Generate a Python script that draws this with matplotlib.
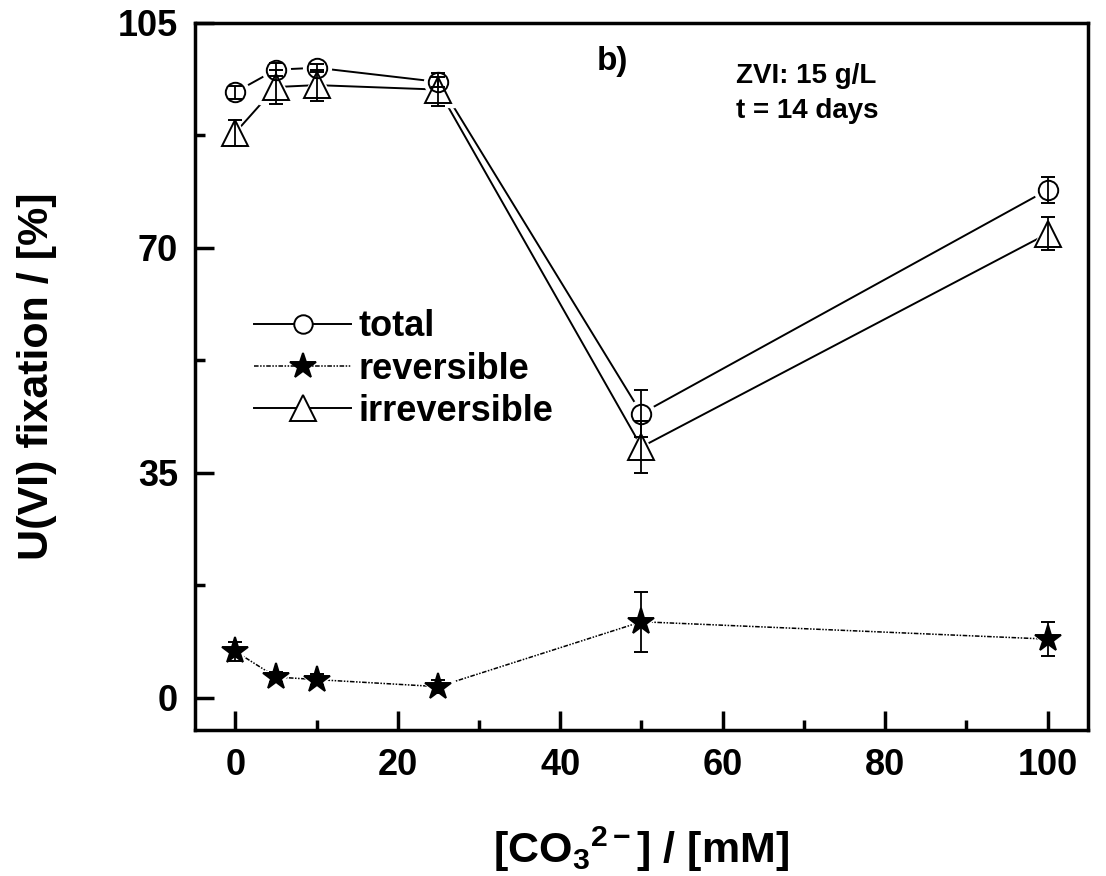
import matplotlib
matplotlib.use('Agg')
import matplotlib.pyplot as plt
from matplotlib.ticker import MultipleLocator
from matplotlib.lines import Line2D

plt.rcParams['font.family'] = ['Liberation Sans', 'DejaVu Sans']
plt.rcParams['font.weight'] = 'bold'
plt.rcParams['mathtext.fontset'] = 'custom'
plt.rcParams['mathtext.rm'] = 'Liberation Sans:bold'
plt.rcParams['mathtext.it'] = 'Liberation Sans:bold'
plt.rcParams['mathtext.bf'] = 'Liberation Sans:bold'

co3 = [0, 5, 10, 25, 50, 100]
total = [94.2, 97.7, 98.0, 95.8, 44.2, 79.0]
total_err = [1.0, 1.0, 0.6, 0.8, 3.7, 2.0]
reversible = [7.2, 3.2, 2.8, 1.7, 11.8, 9.1]
reversible_err = [1.5, 0.8, 0.8, 1.0, 4.7, 2.7]
irreversible = [87.9, 95.0, 95.3, 94.6, 39.0, 72.2]
irreversible_err = [2.0, 2.6, 2.4, 2.6, 4.0, 2.6]

fig = plt.figure(figsize=(11.06, 8.76), dpi=100)
ax = fig.add_axes([0.176, 0.167, 0.808, 0.807])

series = [
    ('total', total, total_err, 'o', 14, '-', 1.4, 'none'),
    ('reversible', reversible, reversible_err, '*', 20, (0, (3, 1, 1, 1, 1, 1)), 1.1, 'black'),
    ('irreversible', irreversible, irreversible_err, '^', 19, '-', 1.4, 'none'),
]

handles = []
for name, y, err, mk, ms, ls, lw, fc in series:
    # connecting line, white halo to leave a gap, then markers with error bars
    ax.plot(co3, y, color='black', ls=ls, lw=lw, zorder=1)
    ax.plot(co3, y, ls='none', marker=mk, ms=ms + 6, mfc='white', mec='white', zorder=2)
    ax.errorbar(co3, y, yerr=err, ls='none', marker=mk, ms=ms, mfc=fc, mec='black',
                mew=1.4, ecolor='black', capsize=5, elinewidth=1.3, capthick=1.3, zorder=3)
    handles.append(Line2D([], [], color='black', ls=ls, lw=lw, marker=mk, ms=ms * 0.95,
                          mfc='white' if fc == 'none' else fc, mec='black', mew=1.4))

ax.set_xlim(-5, 105)
ax.set_ylim(-5, 105)
ax.xaxis.set_major_locator(MultipleLocator(20))
ax.xaxis.set_minor_locator(MultipleLocator(10))
ax.yaxis.set_major_locator(MultipleLocator(35))
ax.yaxis.set_minor_locator(MultipleLocator(17.5))
ax.tick_params(which='both', direction='in', width=2.5, labelsize=26)
ax.tick_params(axis='x', pad=13)
ax.tick_params(axis='y', pad=12)
ax.tick_params(which='major', length=14)
ax.tick_params(which='minor', length=7)
for s in ax.spines.values():
    s.set_linewidth(2.5)

ax.set_xlabel(r'[CO$_3$$^{2-}$] / [mM]', fontsize=31, fontweight='bold', labelpad=30)
ax.set_ylabel('U(VI) fixation / [%]', fontsize=31, fontweight='bold', labelpad=44)

ax.text(0.45, 0.945, 'b)', transform=ax.transAxes, fontsize=24, fontweight='bold', va='center')
ax.text(0.606, 0.925, 'ZVI: 15 g/L', transform=ax.transAxes, fontsize=20, fontweight='bold', va='center')
ax.text(0.606, 0.875, 't = 14 days', transform=ax.transAxes, fontsize=20, fontweight='bold', va='center')

ax.legend(handles, [s[0] for s in series], loc='upper left', bbox_to_anchor=(0.05, 0.615),
          frameon=False, fontsize=26, handlelength=2.7, handletextpad=0.2,
          labelspacing=0.2, borderaxespad=0)

fig.savefig('out.png', dpi=100)
